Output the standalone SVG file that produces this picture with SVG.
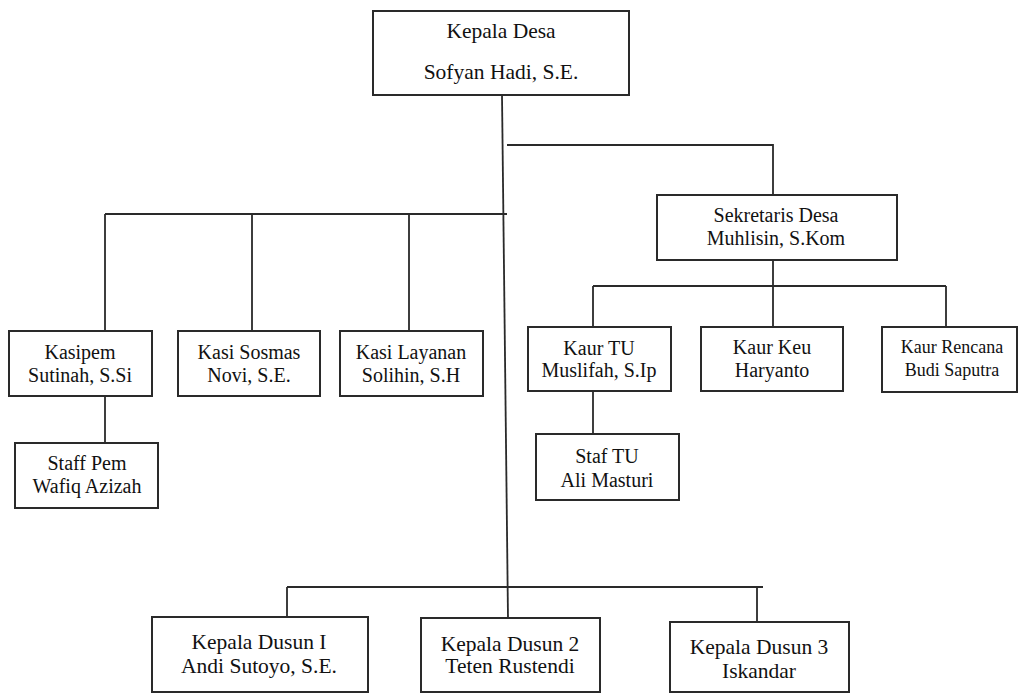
<svg xmlns="http://www.w3.org/2000/svg" width="1019" height="694" viewBox="0 0 1019 694">
<style>
.box{fill:#fff;stroke:#2a2a2a;stroke-width:2}
.ln{fill:none;stroke:#2a2a2a;stroke-width:1.8}
.lbl text{fill:#111;text-anchor:middle}
.t20{font-size:20px}
.t21{font-size:21.5px}
.t18{font-size:18px}
</style>
<rect width="1019" height="694" fill="#fff"/>
<g id="connectors">
<path class="ln" d="M502 95 L508 618"/>
<path class="ln" d="M507 145 H773 V195"/>
<path class="ln" d="M105 214 H507"/>
<path class="ln" d="M105 214 V331 M252 214 V331 M409 214 V331"/>
<path class="ln" d="M105 396 V443"/>
<path class="ln" d="M773 260 V286 M593 286 H946 M593 286 V327 M773 286 V327 M946 286 V327"/>
<path class="ln" d="M593 391 V434"/>
<path class="ln" d="M287 587 H763 M287 587 V617 M757 587 V622"/>
</g>
<g class="lbl" font-family="'Liberation Serif', 'Times New Roman', serif">
<g id="kepala-desa"><rect class="box" x="373" y="11" width="256" height="84"/><text class="t21" x="501" y="38">Kepala Desa</text><text class="t21" x="501" y="79">Sofyan Hadi, S.E.</text></g>
<g id="kasipem"><rect class="box" x="9" y="331" width="143" height="65"/><text class="t20" x="80" y="359">Kasipem</text><text class="t20" x="80" y="382">Sutinah, S.Si</text></g>
<g id="kasi-sosmas"><rect class="box" x="178" y="331" width="142" height="65"/><text class="t20" x="249" y="359">Kasi Sosmas</text><text class="t20" x="249" y="382">Novi, S.E.</text></g>
<g id="kasi-layanan"><rect class="box" x="340" y="331" width="143" height="65"/><text class="t20" x="411" y="359">Kasi Layanan</text><text class="t20" x="411" y="382">Solihin, S.H</text></g>
<g id="staff-pem"><rect class="box" x="15" y="443" width="143" height="65"/><text class="t20" x="87" y="470">Staff Pem</text><text class="t20" x="87" y="493">Wafiq Azizah</text></g>
<g id="sekretaris-desa"><rect class="box" x="657" y="195" width="240" height="65"/><text class="t20" x="776" y="222">Sekretaris Desa</text><text class="t20" x="776" y="245">Muhlisin, S.Kom</text></g>
<g id="kaur-tu"><rect class="box" x="528" y="327" width="143" height="64"/><text class="t20" x="599" y="355">Kaur TU</text><text class="t20" x="599" y="377">Muslifah, S.Ip</text></g>
<g id="kaur-keu"><rect class="box" x="701" y="327" width="142" height="64"/><text class="t20" x="772" y="354">Kaur Keu</text><text class="t20" x="772" y="377">Haryanto</text></g>
<g id="kaur-rencana"><rect class="box" x="882" y="327" width="135" height="65"/><text class="t18" x="952" y="353">Kaur Rencana</text><text class="t18" x="952" y="376">Budi Saputra</text></g>
<g id="staf-tu"><rect class="box" x="536" y="434" width="143" height="66"/><text class="t20" x="607" y="463">Staf TU</text><text class="t20" x="607" y="487">Ali Masturi</text></g>
<g id="kepala-dusun-1"><rect class="box" x="152" y="617" width="216" height="75"/><text class="t21" x="259" y="649">Kepala Dusun I</text><text class="t21" x="259" y="673">Andi Sutoyo, S.E.</text></g>
<g id="kepala-dusun-2"><rect class="box" x="421" y="618" width="179" height="74"/><text class="t21" x="510" y="651">Kepala Dusun 2</text><text class="t21" x="510" y="673">Teten Rustendi</text></g>
<g id="kepala-dusun-3"><rect class="box" x="670" y="622" width="179" height="70"/><text class="t21" x="759" y="654">Kepala Dusun 3</text><text class="t21" x="759" y="678">Iskandar</text></g>
</g>
</svg>
